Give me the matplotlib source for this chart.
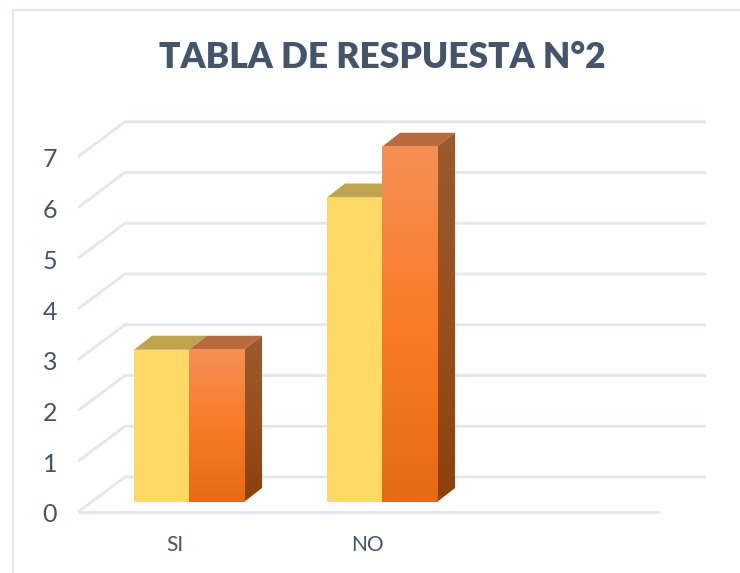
import numpy as np
import matplotlib
matplotlib.use('Agg')
import matplotlib.pyplot as plt
from matplotlib.colors import LinearSegmentedColormap
from matplotlib.patches import Polygon, Rectangle

plt.rcParams['font.family'] = ['Lato', 'DejaVu Sans']

# Data
categorias = ['SI', 'NO']
serie_1 = [3, 6]
serie_2 = [3, 7]
ticks_y = [0, 1, 2, 3, 4, 5, 6, 7]
titulo = 'TABLA DE RESPUESTA N°2'

TEXT = '#44546a'
GRID = '#e2e6ed'

W, H = 740, 573
fig = plt.figure(figsize=(W / 100, H / 100), dpi=100)

# Axes placed so that value 0 = pixel row 512 and one unit = 50.75 px,
# one category step = 193 px. Room above 7 is for the 3D tops.
unit_y = 50.75
unit_x = 193.0
x_left, x_right = 78, 659
ax = fig.add_axes([x_left / W, (H - 512) / H, (x_right - x_left) / W, 8 * unit_y / H])
ax.axis('off')

# Oblique offsets of the 3D look, in data units
wall_dx, wall_dy = 47 / unit_x, 35 / unit_y
bar_dx, bar_dy = 18 / unit_x, 14 / unit_y
base_dy = 10 / unit_y
bar_w = 55 / unit_x

# Walls and floor grid
for v in ticks_y:
    ax.plot([-0.575, -0.575 + wall_dx, 2.435 + wall_dx],
            [v, v + wall_dy, v + wall_dy],
            color=GRID, lw=2.0, clip_on=False, solid_joinstyle='miter',
            solid_capstyle='butt', zorder=1)
ax.plot([-0.575, 2.435], [0, 0], color=GRID, lw=2.0, clip_on=False,
        solid_capstyle='butt', zorder=1)

naranja = LinearSegmentedColormap.from_list(
    'naranja', ['#e66a14', '#f97b26', '#f68f55'])
lado = LinearSegmentedColormap.from_list(
    'lado', ['#8c410c', '#98501c', '#9b5a30'])
grad = np.linspace(0, 1, 256).reshape(-1, 1)


def barra(x0, valor, cara, tapa, lateral=None):
    y0 = base_dy
    y1 = valor + base_dy
    x1 = x0 + bar_w
    # top
    ax.add_patch(Polygon([(x0, y1), (x1, y1), (x1 + bar_dx, y1 + bar_dy), (x0 + bar_dx, y1 + bar_dy)],
                         closed=True, fc=tapa, ec='none', zorder=3))
    if lateral is not None:
        im = ax.imshow(grad, cmap=lateral, origin='lower', aspect='auto',
                       extent=(x1, x1 + bar_dx, y0, y1 + bar_dy), zorder=3)
        im.set_clip_path(Polygon([(x1, y0), (x1 + bar_dx, y0 + bar_dy), (x1 + bar_dx, y1 + bar_dy), (x1, y1)],
                                 closed=True, transform=ax.transData))
    if isinstance(cara, str):
        ax.add_patch(Rectangle((x0, y0), bar_w, y1 - y0, fc=cara, ec='none', zorder=4))
    else:
        ax.imshow(grad, cmap=cara, origin='lower', aspect='auto',
                  extent=(x0, x1, y0, y1), zorder=4)


for i, cat in enumerate(categorias):
    barra(i - bar_w, serie_1[i], '#ffd965', '#bfa44c')
    barra(i, serie_2[i], naranja, '#b96a3e', lado)
    ax.text(i - 0.075, -33 / unit_y, cat, ha='center', va='center', fontsize=15, color=TEXT, clip_on=False)

ax.set_xlim(-0.575, 2.435)
ax.set_ylim(0, 8)

for v in ticks_y:
    ax.text(-0.575 - 28 / unit_x, v - 3 / unit_y, str(v), ha='center', va='center',
            fontsize=18, color=TEXT, clip_on=False)

# Chart frame (only top and left are visible in the crop)
fig.add_artist(plt.Line2D([13 / W, 13 / W], [0, 1 - 10 / H], color=GRID, lw=1.6))
fig.add_artist(plt.Line2D([13 / W, 1], [1 - 10 / H, 1 - 10 / H], color=GRID, lw=1.6))

fig.text(382 / W, 1 - 58 / H, titulo, ha='center', va='center',
         fontsize=25.5, fontweight='heavy', color=TEXT)

fig.savefig('out.png', dpi=100)
